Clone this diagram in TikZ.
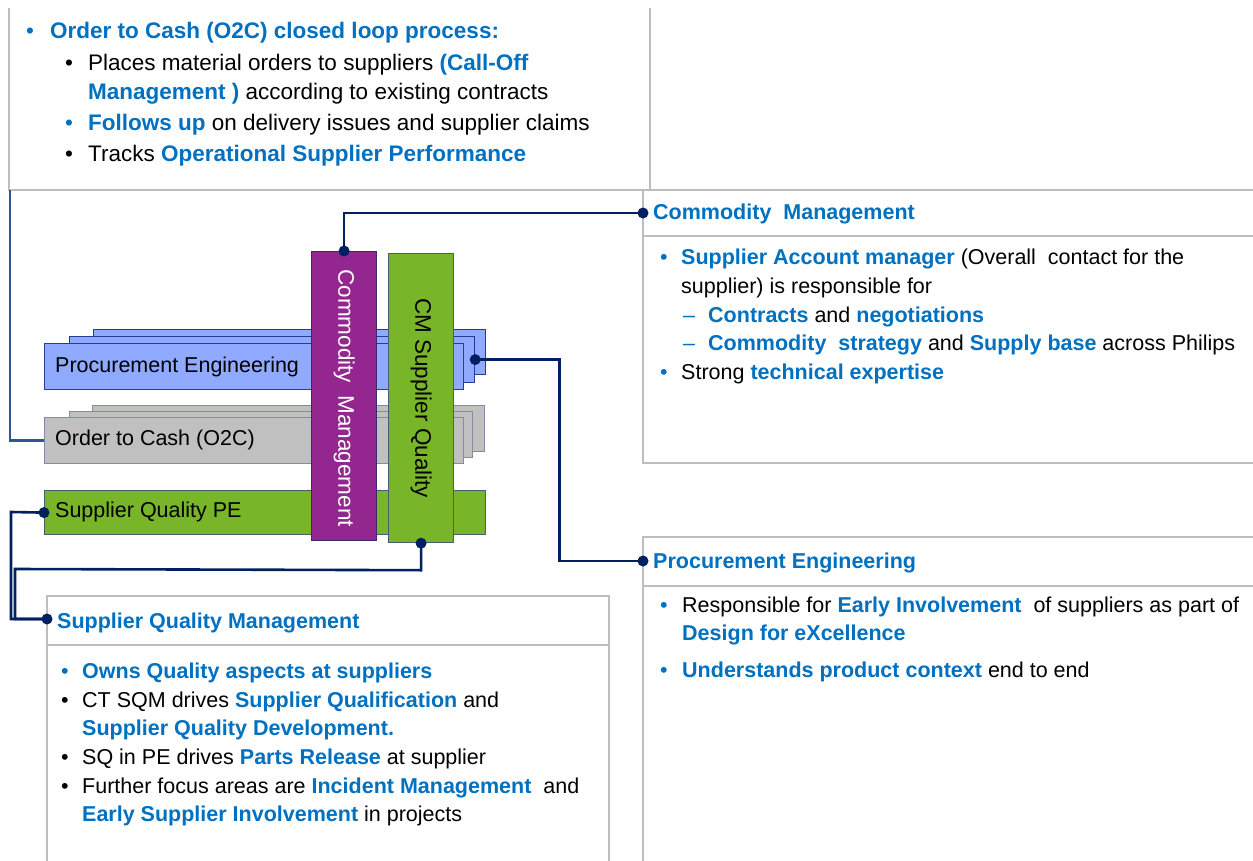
\documentclass[tikz,border=0pt]{standalone}
\usepackage{fontspec}
\setmainfont{Liberation Sans}
\definecolor{bblue}{RGB}{0,112,192}
\definecolor{navy}{RGB}{0,32,96}
\definecolor{steel}{RGB}{47,85,151}
\definecolor{boxgray}{RGB}{190,190,190}
\definecolor{pefill}{RGB}{143,170,255}
\definecolor{peline}{RGB}{40,60,150}
\definecolor{ocfill}{RGB}{192,192,192}
\definecolor{ocline}{RGB}{130,140,165}
\definecolor{gfill}{RGB}{120,181,40}
\definecolor{gline}{RGB}{70,95,110}
\definecolor{pfill}{RGB}{148,38,143}
\definecolor{pline}{RGB}{60,40,110}
\newcommand{\hl}[1]{\textbf{\color{bblue}#1}}
\newcommand{\bbul}{{\color{bblue}\textbullet}}
\begin{document}
\begin{tikzpicture}[x=1pt,y=-1pt,
  txt/.style={anchor=base west,inner sep=0pt,font=\fontsize{21.5}{26}\selectfont},
  txtb/.style={anchor=base west,inner sep=0pt,font=\fontsize{22.5}{27}\selectfont},
  vtxt/.style={rotate=-90,inner sep=0pt,font=\fontsize{22.5}{27}\selectfont},
  boxline/.style={draw=boxgray,line width=1.5pt},
  rbox/.style={anchor=north west,inner sep=0pt,line width=1.2pt},
  pebox/.style={rbox,fill=pefill,draw=peline},
  ocbox/.style={rbox,fill=ocfill,draw=ocline},
  gbox/.style={rbox,fill=gfill,draw=gline},
  pbox/.style={rbox,fill=pfill,draw=pline},
  conn/.style={draw=navy,line width=2.6pt},
  dot/.style={fill=navy}]
\useasboundingbox (0,0) rectangle (1253,861);
% frames
\draw[boxline] (9,8) -- (9,190) -- (1253,190);
\draw[boxline] (650,8) -- (650,190);
\draw[boxline] (643,190) -- (643,463) -- (1253,463);
\draw[boxline] (643,236) -- (1253,236);
\draw[boxline] (1253,537) -- (643,537) -- (643,861);
\draw[boxline] (643,586) -- (1253,586);
\draw[boxline] (47,861) -- (47,596) -- (609,596) -- (609,861);
\draw[boxline] (47,645) -- (609,645);
% coordinates for header anchors
\coordinate (cmhd) at (643,213);
\coordinate (pehd) at (643,561);
\coordinate (sqmhd) at (47,619);
\coordinate (o2ctop) at (10,190);
% stacks
\node[pebox,minimum width=392pt,minimum height=45pt] (pe3) at (93,329) {};
\node[pebox,minimum width=405pt,minimum height=46pt] (pe2) at (69,336) {};
\node[pebox,minimum width=419pt,minimum height=46pt] (pe1) at (44,343) {};
\node[ocbox,minimum width=392pt,minimum height=46pt] (oc3) at (92,405) {};
\node[ocbox,minimum width=403pt,minimum height=46pt] (oc2) at (69,411) {};
\node[ocbox,minimum width=419pt,minimum height=46pt] (oc1) at (44,417) {};
\node[gbox,minimum width=441pt,minimum height=44pt] (sqpe) at (44,490) {};
\node[txt] (lpe) at (55,372) {Procurement Engineering};
\node[txt] (loc) at (55,445) {Order to Cash (O2C)};
\node[txt] (lsq) at (55,517) {Supplier Quality PE};
% vertical bars
\node[pbox,minimum width=65pt,minimum height=289pt] (cm) at (311,251) {};
\node[gbox,minimum width=65pt,minimum height=289pt] (cmsq) at (388,253) {};
\node[vtxt,text=white] (lcm) at ([yshift=-2pt]cm.center) {Commodity~ Management};
\node[vtxt] (lcmsq) at (cmsq.center) {CM Supplier Quality};
% connectors
\draw[draw=steel,line width=2.5pt] (o2ctop) |- (oc1.west);
\draw[conn] (cm.north) |- (cmhd);
\fill[dot] (cm.north) circle (5.5pt);
\fill[dot] (cmhd) circle (5.5pt);
\draw[conn] (pe2.east) -- ++(84,0) |- (pehd);
\fill[dot] (pe2.east) circle (5.5pt);
\fill[dot] (pehd) circle (5.5pt);
\draw[conn] (cmsq.south) -- ++(0,27) -- (15,569) |- (sqmhd);
\draw[conn] (sqpe.west) -- (11,512) |- (sqmhd);
\fill[dot] (cmsq.south) circle (5.5pt);
\fill[dot] (sqpe.west) circle (5.5pt);
\fill[dot] (sqmhd) circle (5.5pt);
% top box text
\node[txtb] (a0) at (26,39) {\bbul};
\node[txtb] (a1) at (50,39) {\hl{Order to Cash (O2C) closed loop process:}};
\node[txtb] (a2b) at (65,71) {\textbullet};
\node[txtb] (a2) at (88,71) {Places material orders to suppliers \hl{(Call-Off}};
\node[txtb] (a3) at (88,100) {\hl{Management )} according to existing contracts};
\node[txtb] (a4b) at (65,131) {\bbul};
\node[txtb] (a4) at (88,131) {\hl{Follows up} on delivery issues and supplier claims};
\node[txtb] (a5b) at (65,162) {\textbullet};
\node[txtb] (a5) at (88,162) {Tracks \hl{Operational Supplier Performance}};
% commodity management box
\node[txt] (c0) at (653,220) {\hl{Commodity~ Management}};
\node[txt] (c1b) at (660,265) {\bbul};
\node[txt] (c1) at (681,265) {\hl{Supplier Account manager} (Overall~ contact for the};
\node[txt] (c2) at (681,293) {supplier) is responsible for};
\node[txt] (c3b) at (683,322) {\color{bblue}--};
\node[txt] (c3) at (708,322) {\hl{Contracts} and \hl{negotiations}};
\node[txt] (c4b) at (683,350) {\color{bblue}--};
\node[txt] (c4) at (708,350) {\hl{Commodity~ strategy} and \hl{Supply base} across Philips};
\node[txt] (c5b) at (660,379) {\bbul};
\node[txt] (c5) at (681,379) {Strong \hl{technical expertise}};
% procurement engineering box
\node[txt] (p0) at (653,568) {\hl{Procurement Engineering}};
\node[txt] (p1b) at (660,612) {\bbul};
\node[txt] (p1) at (682,612) {Responsible for \hl{Early Involvement}~ of suppliers as part of};
\node[txt] (p2) at (682,640) {\hl{Design for eXcellence}};
\node[txt] (p3b) at (660,677) {\bbul};
\node[txt] (p3) at (682,677) {\hl{Understands product context} end to end};
% supplier quality management box
\node[txt] (s0) at (57,628) {\hl{Supplier Quality Management}};
\node[txt] (s1b) at (61,678) {\bbul};
\node[txt] (s1) at (82,678) {\hl{Owns Quality aspects at suppliers}};
\node[txt] (s2b) at (61,707) {\textbullet};
\node[txt] (s2) at (82,707) {CT SQM drives \hl{Supplier Qualification} and};
\node[txt] (s3) at (82,735) {\hl{Supplier Quality Development.}};
\node[txt] (s4b) at (61,764) {\textbullet};
\node[txt] (s4) at (82,764) {SQ in PE drives \hl{Parts Release} at supplier};
\node[txt] (s5b) at (61,793) {\textbullet};
\node[txt] (s5) at (82,793) {Further focus areas are \hl{Incident Management}~ and};
\node[txt] (s6) at (82,821) {\hl{Early Supplier Involvement} in projects};
\end{tikzpicture}
\end{document}
